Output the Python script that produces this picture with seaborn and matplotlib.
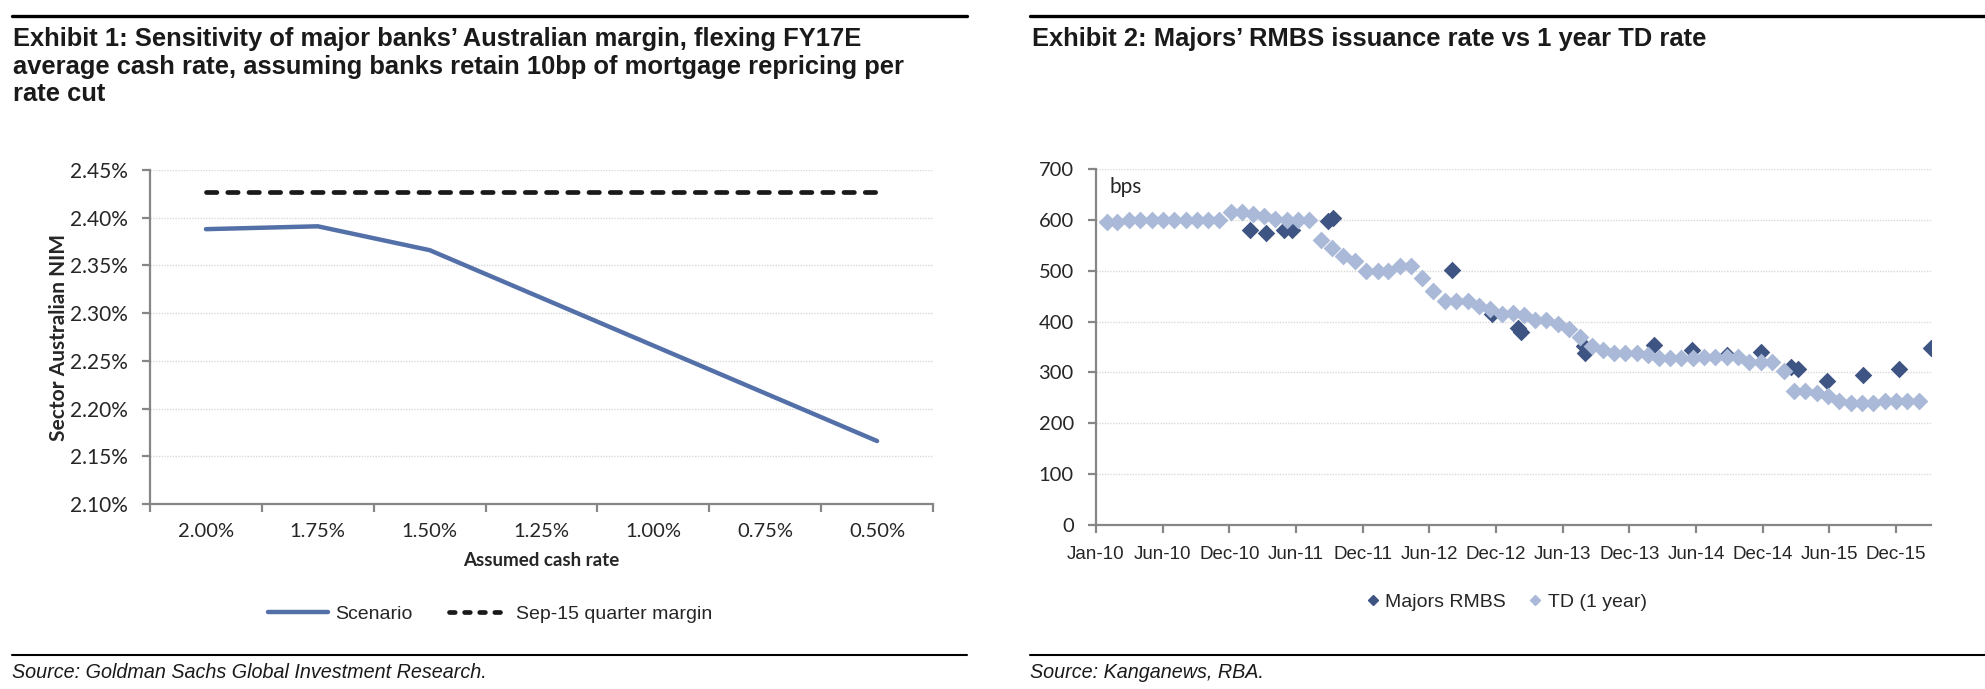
import pandas as pd
import seaborn as sns
import matplotlib.pyplot as plt
import matplotlib.dates as mdates
from matplotlib.lines import Line2D
from matplotlib.ticker import FixedLocator, FuncFormatter

# Exhibit 1 data
cash_rates = ['2.00%', '1.75%', '1.50%', '1.25%', '1.00%', '0.75%', '0.50%']
scenario_nim = [2.388, 2.391, 2.366, 2.316, 2.266, 2.216, 2.166]
sep15_margin = [2.427, 2.427, 2.427, 2.427, 2.427, 2.427, 2.427]

# Exhibit 2 data (monthly TD, Jan-10 .. Jan-16, month end)
td_rate = [595, 595, 600, 600, 600, 600, 600, 600, 600, 600, 600,
           615, 615, 611, 607, 601, 600, 600, 600,
           560, 545, 529, 520, 499, 499, 499, 510, 510, 485, 461,
           440, 440, 440, 430, 424, 415, 416, 412, 404, 404,
           396, 385, 369, 351, 344, 339, 339, 339, 334, 328,
           328, 328, 328, 330, 330, 330, 330, 320, 320, 320,
           303, 264, 264, 259, 253, 244, 239, 239, 239, 244,
           244, 244, 244]
rmbs_dates = ['2011-02-21', '2011-04-05', '2011-05-24', '2011-06-14', '2011-09-19',
              '2011-10-03', '2012-08-19', '2012-12-05', '2013-02-13', '2013-02-20',
              '2013-08-09', '2013-08-14', '2014-02-14', '2014-05-30', '2014-08-30',
              '2014-12-01', '2015-02-20', '2015-03-11', '2015-05-29', '2015-09-03',
              '2015-12-08', '2016-03-03']
rmbs_rate = [581, 575, 581, 581, 598, 604, 501, 415, 387, 379,
             351, 338, 354, 345, 335, 341, 311, 307, 284, 295,
             306, 349]

NARROW = ['Liberation Sans Narrow', 'Liberation Sans', 'DejaVu Sans']
CHART = ['Lato', 'DejaVu Sans']
GREY = '#868686'
GRID = '#d9d9d9'

sns.set_style('white')
plt.rcParams['font.family'] = CHART

W, H = 1985, 689
fig = plt.figure(figsize=(W / 100, H / 100), dpi=100)


def fx(px):
    return px / W


def fy(py):
    return 1 - py / H


def style_axes(ax):
    for s in ['top', 'right']:
        ax.spines[s].set_visible(False)
    for s in ['left', 'bottom']:
        ax.spines[s].set_color(GREY)
        ax.spines[s].set_linewidth(1.6)
    ax.grid(axis='y', color=GRID, linestyle=(0, (1, 1)), linewidth=1)
    ax.set_axisbelow(True)


# ---------- Exhibit 1 ----------
ax1 = fig.add_axes([fx(150), fy(504), fx(933 - 150), (504 - 170) / H])
df1 = pd.DataFrame({'rate': cash_rates, 'Scenario': scenario_nim, 'Sep-15 quarter margin': sep15_margin})
sns.lineplot(data=df1, x='rate', y='Scenario', ax=ax1, color='#5470a8', linewidth=3.2,
             sort=False, label='Scenario', solid_capstyle='round')
sns.lineplot(data=df1, x='rate', y='Sep-15 quarter margin', ax=ax1, color='#1a1a1a', linewidth=3.4,
             sort=False, label='Sep-15 quarter margin', dashes=False)
ax1.lines[1].set_dashes((2.2, 2.3))
ax1.lines[1].set_dash_capstyle('round')
style_axes(ax1)
ax1.set_xlim(-0.5, len(cash_rates) - 0.5)
ax1.set_ylim(2.10, 2.45)
ax1.set_yticks([2.10, 2.15, 2.20, 2.25, 2.30, 2.35, 2.40, 2.45])
ax1.yaxis.set_major_formatter(FuncFormatter(lambda v, p: f'{v:.2f}%'))
ax1.xaxis.set_major_locator(FixedLocator([i - 0.5 for i in range(len(cash_rates) + 1)]))
ax1.xaxis.set_minor_locator(FixedLocator(list(range(len(cash_rates)))))
ax1.set_xticklabels([], minor=False)
ax1.set_xticklabels(cash_rates, minor=True)
ax1.tick_params(axis='x', which='major', length=6, width=1.6, color=GREY, bottom=True)
ax1.tick_params(axis='x', which='minor', length=0, pad=14, labelsize=14.5, bottom=True)
ax1.tick_params(axis='y', length=6, width=1.6, color=GREY, left=True, pad=10, labelsize=15)
ax1.set_xlabel('Assumed cash rate', fontsize=13.5, fontweight='bold', labelpad=8)
ax1.set_ylabel('Sector Australian NIM', fontsize=15, fontweight='bold', labelpad=1)
ax1.get_legend().remove()
h1 = [Line2D([], [], color='#5470a8', linewidth=3.2),
      Line2D([], [], color='#1a1a1a', linewidth=3.4, dashes=(1.2, 2.0), dash_capstyle='round')]
fig.legend(h1, ['Scenario', 'Sep-15 quarter margin'], loc='center', bbox_to_anchor=(fx(490), fy(614)),
           ncol=2, frameon=False, handlelength=3.1, handletextpad=0.35, columnspacing=1.9,
           prop={'family': NARROW, 'size': 14})

# ---------- Exhibit 2 ----------
ax2 = fig.add_axes([fx(1096), fy(525), fx(1931 - 1096), (525 - 169) / H])
td_dates = pd.date_range('2010-02-01', periods=len(td_rate), freq='MS') - pd.Timedelta(days=1)
df_td = pd.DataFrame({'date': td_dates, 'rate': td_rate})
df_rmbs = pd.DataFrame({'date': pd.to_datetime(rmbs_dates), 'rate': rmbs_rate})
sns.scatterplot(data=df_rmbs, x='date', y='rate', ax=ax2, marker='D', s=80, color='#3e5482',
                linewidth=0, label='Majors RMBS', zorder=3)
sns.scatterplot(data=df_td, x='date', y='rate', ax=ax2, marker='D', s=82, color='#aab9d7',
                linewidth=0, label='TD (1 year)', zorder=4)
style_axes(ax2)
ax2.set_ylim(0, 700)
ax2.set_yticks(range(0, 701, 100))
ax2.set_xlim(pd.Timestamp('2010-01-01'), pd.Timestamp('2016-03-04'))
ticks = pd.date_range('2010-01-01', periods=13, freq='180D')
ax2.set_xticks(ticks)
ax2.xaxis.set_major_formatter(mdates.DateFormatter('%b-%y'))
ax2.tick_params(axis='x', length=6, width=1.6, color=GREY, bottom=True, pad=9)
ax2.tick_params(axis='y', length=6, width=1.6, color=GREY, left=True, pad=10, labelsize=14.5)
for lab in ax2.get_xticklabels():
    lab.set_fontfamily(NARROW)
    lab.set_fontsize(13.5)
ax2.set_xlabel('')
ax2.set_ylabel('')
ax2.text(0.016, 0.95, 'bps', transform=ax2.transAxes, fontsize=15, va='center', ha='left')
ax2.get_legend().remove()
h2 = [Line2D([], [], marker='D', linestyle='', color='#3e5482', markersize=5.5),
      Line2D([], [], marker='D', linestyle='', color='#aab9d7', markersize=5.5)]
fig.legend(h2, ['Majors RMBS', 'TD (1 year)'], loc='center', bbox_to_anchor=(fx(1507), fy(602)),
           ncol=2, frameon=False, handlelength=0.6, handletextpad=0.35, columnspacing=1.2,
           prop={'family': NARROW, 'size': 14})

# ---------- titles, rules, sources ----------
fig.add_artist(Line2D([fx(12), fx(967)], [fy(16), fy(16)], color='black', linewidth=2.4))
fig.add_artist(Line2D([fx(1030), fx(1985)], [fy(16), fy(16)], color='black', linewidth=2.4))
fig.add_artist(Line2D([fx(12), fx(967)], [fy(655), fy(655)], color='black', linewidth=1.5))
fig.add_artist(Line2D([fx(1030), fx(1985)], [fy(655), fy(655)], color='black', linewidth=1.5))

title1 = ("Exhibit 1: Sensitivity of major banks\u2019 Australian margin, flexing FY17E\n"
          "average cash rate, assuming banks retain 10bp of mortgage repricing per\n"
          "rate cut")
fig.text(fx(13), fy(27), title1, ha='left', va='top', fontsize=18.4, fontweight='bold',
         family=NARROW, color='#1a1a1a', linespacing=1.19)
fig.text(fx(1032), fy(27), "Exhibit 2: Majors\u2019 RMBS issuance rate vs 1 year TD rate", ha='left',
         va='top', fontsize=18.4, fontweight='bold', family=NARROW, color='#1a1a1a')
fig.text(fx(12), fy(672), 'Source: Goldman Sachs Global Investment Research.', ha='left', va='center',
         fontsize=14.2, style='italic', family=NARROW, color='#1a1a1a')
fig.text(fx(1030), fy(672), 'Source: Kanganews, RBA.', ha='left', va='center',
         fontsize=14.2, style='italic', family=NARROW, color='#1a1a1a')

fig.savefig('out.png', dpi=100)
